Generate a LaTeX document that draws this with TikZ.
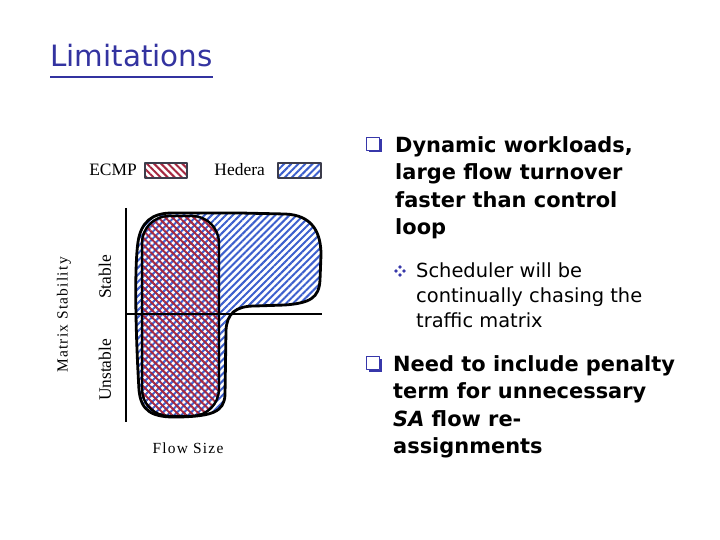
\documentclass[tikz,border=0pt]{standalone}
\usepackage{fontspec}
\setmainfont{Liberation Serif}
\newfontfamily\comicfont{DejaVu Sans}
\usetikzlibrary{patterns.meta,shadows}
\definecolor{titleblue}{RGB}{51,51,160}
\definecolor{ecmpred}{RGB}{165,40,65}
\definecolor{hederablue}{RGB}{60,95,205}
\definecolor{bulletblue}{RGB}{55,55,170}
\definecolor{framegray}{RGB}{60,60,75}
\tikzset{
  serif label/.style={font=\fontsize{17.5}{19}\selectfont, inner sep=0pt},
  spaced label/.style={font=\fontsize{15.5}{17}\selectfont\addfontfeature{LetterSpace=8}, inner sep=0pt},
  ecmp fill/.style={pattern={Lines[angle=-45,distance=5bp,line width=2bp]}, pattern color=ecmpred},
  hedera fill/.style={pattern={Lines[angle=45,distance=5bp,line width=2bp]}, pattern color=hederablue},
  swatch/.style={draw=framegray, line width=1.5bp},
  blob/.style={draw=black, line width=2.8bp},
  axis/.style={line width=2.2bp},
  qbox/.style={draw=bulletblue, fill=white, line width=0.8bp, minimum size=13bp, inner sep=0pt,
    general shadow={fill=bulletblue, shadow xshift=2bp, shadow yshift=-2bp}},
  maintext/.style={font=\comicfont\bfseries\fontsize{21}{27.5}\selectfont, align=left, inner sep=0pt, anchor=base west},
  subtext/.style={font=\comicfont\fontsize{19.5}{25}\selectfont, align=left, inner sep=0pt, anchor=base west}
}
\begin{document}
\begin{tikzpicture}[x=1bp, y=-1bp, line join=round, line cap=round]
\useasboundingbox (0,0) rectangle (720,540);
% title
\node[font=\comicfont\fontsize{29.5}{31}\selectfont, text=titleblue, inner sep=0pt, anchor=base west] (title) at (50,67) {Limitations};
\draw[titleblue, line width=2.5bp, line cap=butt] ([yshift=-10bp]title.base west) -- ([yshift=-10bp]title.base east);

% legend
\node[serif label, anchor=base east] (ecmp) at (137,176) {ECMP};
\draw[swatch, ecmp fill] (145,163) rectangle (187,178);
\node[serif label, anchor=base east] (hedera) at (265,176) {Hedera};
\draw[swatch, hedera fill] (278,163) rectangle (321,178);

% regions
\draw[blob, hedera fill] (172,213) -- (240,213)
  -- (285,214) .. controls (312,215) and (321,232) .. (321,255)
  -- (320,280) .. controls (319,298) and (310,303) .. (285,305)
  -- (255,306) .. controls (235,306) and (227,314) .. (226,330)
  -- (225,395) .. controls (224,412) and (212,416) .. (180,417)
  .. controls (150,418) and (141,410) .. (139,390)
  .. controls (136,340) and (134,270) .. (138,242)
  .. controls (141,222) and (152,213) .. (172,213) -- cycle;
\draw[blob, line width=2.4bp, ecmp fill, rounded corners=27bp] (142,216) rectangle (219,416);

% axes
\path (126,208) coordinate (ytop) (126,422) coordinate (ybot)
      (126,314) coordinate (O) (322,314) coordinate (xend);
\draw[axis, line cap=butt] (ytop) -- (ybot) (O) -- (xend);
\node[serif label, rotate=90] (stable) at (105,277) {Stable};
\node[serif label, rotate=90] (unstable) at (105,370) {Unstable};
\node[spaced label, rotate=90] (mstab) at (64,315) {Matrix Stability};
\node[spaced label] (fsize) at (188,448) {Flow Size};

% bullets (base anchor = last line)
\node[qbox] (q1) at (373,144) {};
\node[maintext] (b1) at (395,234.5) {Dynamic workloads,\\large flow turnover\\faster than control\\loop};
\coordinate (sub) at (400,271);
\foreach \a in {0,90,180,270} \fill[bulletblue] (sub) +(\a:4) circle (1.9bp);
\node[subtext] (s1) at (416,327) {Scheduler will be\\continually chasing the\\traffic matrix};
\node[qbox] (q2) at (373,363) {};
\node[maintext] (b2) at (393,453.5) {Need to include penalty\\term for unnecessary\\\textit{SA} flow re-\\assignments};
\end{tikzpicture}
\end{document}
